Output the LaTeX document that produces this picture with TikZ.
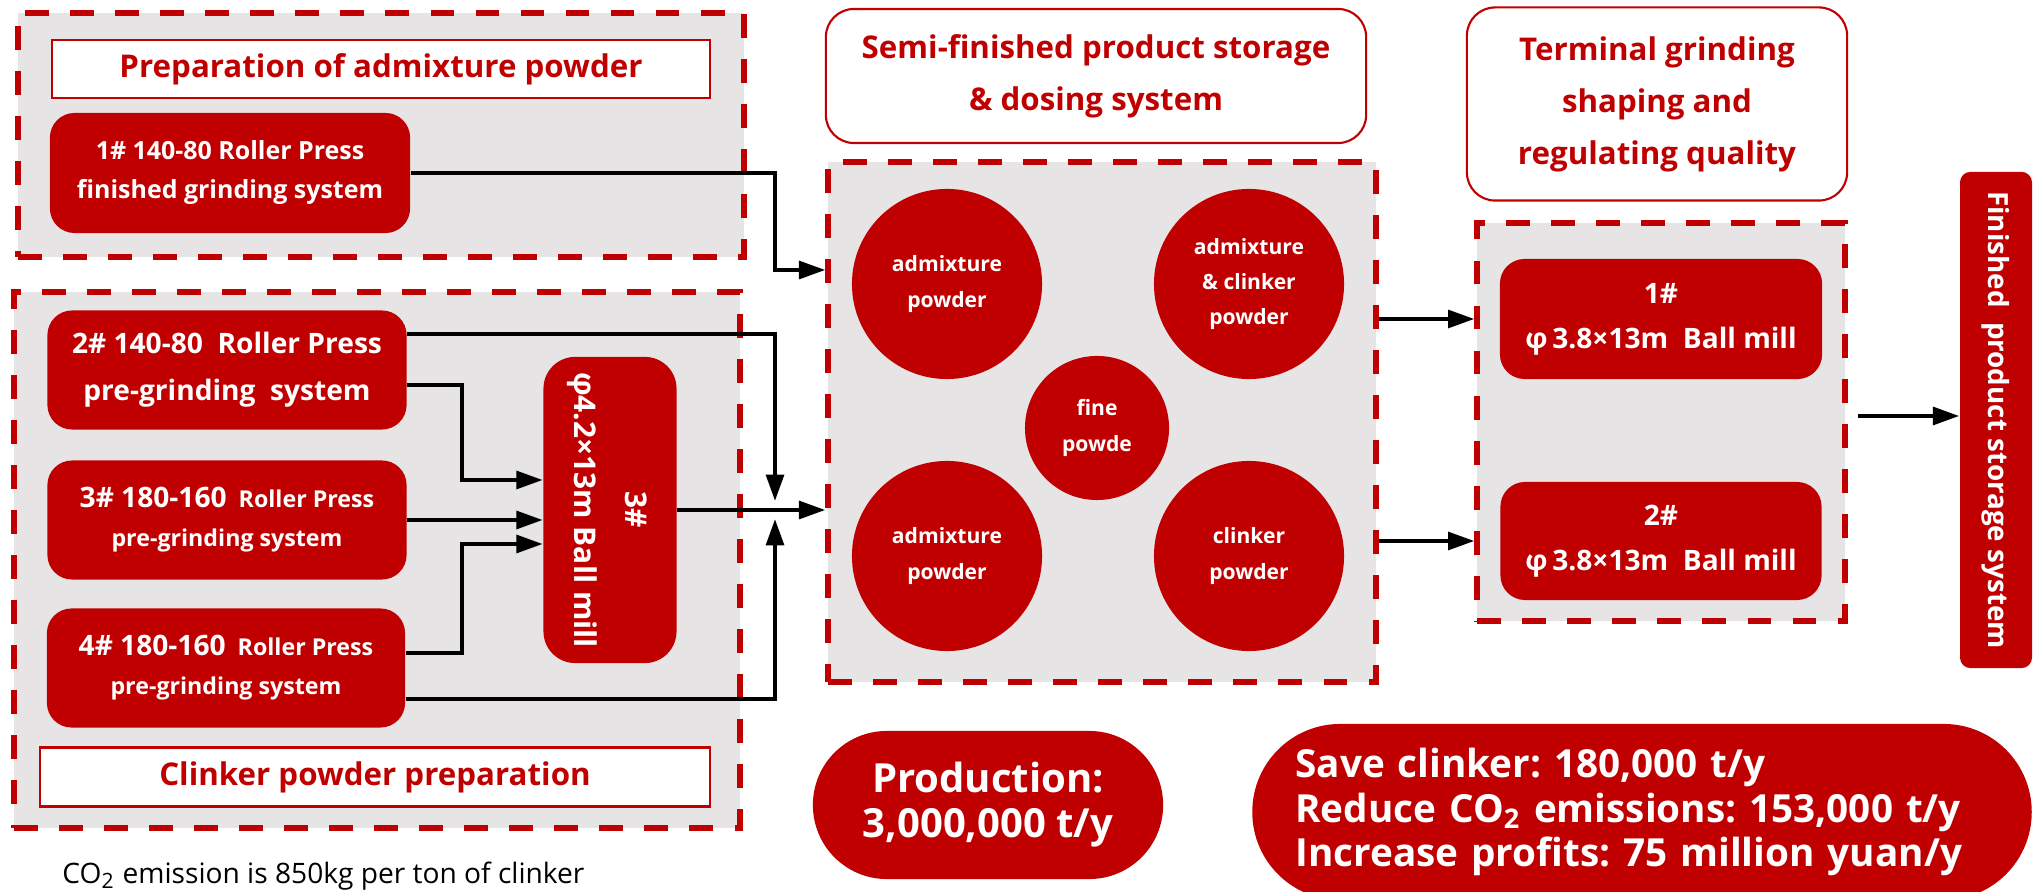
\documentclass[tikz,border=0pt]{standalone}
\usepackage{fontspec}
\setmainfont{Open Sans}
\usepackage{tikz}
\usetikzlibrary{calc,arrows.meta}
\definecolor{deepred}{HTML}{C00000}
\definecolor{panel}{HTML}{E6E4E5}
\frenchspacing
\tikzset{
  zone/.style={draw=deepred, fill=panel, line width=1.7pt, dash pattern=on 6.8pt off 6pt, inner sep=0pt},
  headbox/.style={draw=deepred, fill=white, line width=0.6pt, text=deepred, align=center, inner sep=0pt,
    font=\fontsize{8.9}{14.8}\selectfont\bfseries},
  redbox/.style={fill=deepred, rounded corners=7pt, text=white, align=center, inner sep=0pt},
  silo/.style={circle, fill=deepred, text=white, align=center, inner sep=0pt, font=\fontsize{6}{10}\selectfont\bfseries},
  pill/.style={fill=deepred, text=white, inner sep=0pt, font=\fontsize{11.4}{12.8}\selectfont\bfseries},
  pressfont/.style={font=\fontsize{6.6}{11.1}\selectfont\bfseries},
  millfont/.style={font=\fontsize{8}{12.8}\selectfont\bfseries},
  flow/.style={draw=black, line width=1.2pt, -{Triangle[length=7.5pt,width=5pt]}}
}

\begin{document}
\begin{tikzpicture}[x=0.01cm, y=-0.01cm]
  \useasboundingbox (0,0) rectangle (2034,892);

  \node[zone, minimum width=7.26cm, minimum height=2.44cm] (admzone) at (381,135) {};
  \node[headbox, minimum width=6.57cm, minimum height=0.58cm] (admhead) at (381,69) {Preparation of admixture powder};
  \node[redbox, minimum width=3.6cm, minimum height=1.2cm, font=\fontsize{7.1}{11.1}\selectfont\bfseries] (rp1) at (230,173)
    {1\# 140-80 Roller Press\\finished grinding system};

  \node[zone, minimum width=7.25cm, minimum height=5.36cm] (clkzone) at (377,560) {};
  \node[redbox, minimum width=3.59cm, minimum height=1.19cm, font=\fontsize{8}{13.4}\selectfont\bfseries] (rp2) at (227,370)
    {2\# 140-80\ \ Roller Press\\pre-grinding\ \ system};
  \node[redbox, pressfont, minimum width=3.59cm, minimum height=1.19cm] (rp3) at (227,520)
    {{\fontsize{8}{11.1}\selectfont 3\# 180-160}\ \ Roller Press\\pre-grinding system};
  \node[redbox, pressfont, minimum width=3.58cm, minimum height=1.19cm] (rp4) at (226,668)
    {{\fontsize{8}{11.1}\selectfont 4\# 180-160}\ \ Roller Press\\pre-grinding system};
  \node[redbox, rounded corners=9pt, minimum width=1.33cm, minimum height=3.06cm] (bm3) at (610,510)
    {\rotatebox{-90}{\fontsize{8.5}{14.5}\selectfont\bfseries\begin{tabular}{@{}c@{}}3\#\\φ4.2×13m Ball mill\end{tabular}}};
  \node[headbox, minimum width=6.69cm, minimum height=0.59cm] (clkhead) at (375,777) {Clinker powder preparation};
  \node[anchor=base west, font=\fontsize{8}{10}\selectfont] (co2note) at (50,883)
    {CO\textsubscript{2} emission is 850kg per ton of clinker};

  \node[headbox, rounded corners=8pt, minimum width=5.4cm, minimum height=1.34cm] (semihead) at (1096,76)
    {Semi-finished product storage\\\& dosing system};
  \node[zone, minimum width=5.47cm, minimum height=5.19cm] (silozone) at (1102,422) {};
  \node[silo, minimum size=1.9cm] (adm1) at (947,284) {admixture\\powder};
  \node[silo, minimum size=1.9cm] (mixed) at (1249,284) {admixture\\\& clinker\\powder};
  \node[silo, minimum size=1.44cm] (fine) at (1097,428) {fine\\powde};
  \node[silo, minimum size=1.9cm] (adm2) at (947,556) {admixture\\powder};
  \node[silo, minimum size=1.9cm] (clk) at (1249,556) {clinker\\powder};

  \node[headbox, rounded corners=8pt, minimum width=3.8cm, minimum height=1.93cm] (termhead) at (1657,104)
    {Terminal grinding\\shaping and\\regulating quality};
  \node[zone, minimum width=3.67cm, minimum height=3.98cm] (millzone) at (1661,422) {};
  \node[redbox, millfont, minimum width=3.22cm, minimum height=1.2cm] (bm1) at (1661,319) {1\#\\φ\,3.8×13m\ \ Ball mill};
  \node[redbox, millfont, minimum width=3.21cm, minimum height=1.18cm] (bm2) at (1661,541) {2\#\\φ\,3.8×13m\ \ Ball mill};
  \node[redbox, rounded corners=3pt, minimum width=0.72cm, minimum height=4.96cm] (store) at (1996,420)
    {\rotatebox{-90}{\fontsize{7.9}{10}\selectfont\bfseries Finished\ \ product storage system}};

  \node[pill, rounded corners=21pt, minimum width=3.5cm, minimum height=1.48cm, align=center] (prod) at (988,805)
    {Production:\\3,000,000 t/y};
  \node[pill, rounded corners=25pt, minimum height=1.76cm, inner xsep=0.43cm, text width=6.93cm, align=left,
    font=\fontsize{11}{12.6}\selectfont\bfseries] (gain) at (1642,812)
    {Save clinker: 180,000 t/y\\Reduce CO\textsubscript{2} emissions: 153,000 t/y\\Increase profits: 75 million yuan/y};

  \coordinate (k1) at (775,270);
  \coordinate (jn) at (775,510);
  \draw[flow] (rp1.east) -| (k1) -- (k1 -| silozone.west);
  \draw[flow] ($(rp2.east)+(0,-36)$) -| ($(jn)+(0,-9)$);
  \draw[flow] ($(rp4.east)+(0,31)$) -| ($(jn)+(0,9)$);
  \draw[flow] ($(rp2.east)+(0,15)$) -| ($(bm3.west)+(-81,-30)$) -- ($(bm3.west)+(0,-30)$);
  \draw[flow] (rp3.east) -- (rp3.east -| bm3.west);
  \draw[flow] ($(rp4.east)+(0,-15)$) -| ($(bm3.west)+(-81,34)$) -- ($(bm3.west)+(0,34)$);
  \draw[flow] (bm3.east) -- (bm3.east -| silozone.west);
  \draw[flow] (bm1.west -| silozone.east) -- (bm1.west -| millzone.west);
  \draw[flow] (bm2.west -| silozone.east) -- (bm2.west -| millzone.west);
  \draw[flow] ($(millzone.east)+(10,-6)$) -- ($(millzone.east -| store.west)+(0,-6)$);
\end{tikzpicture}
\end{document}
